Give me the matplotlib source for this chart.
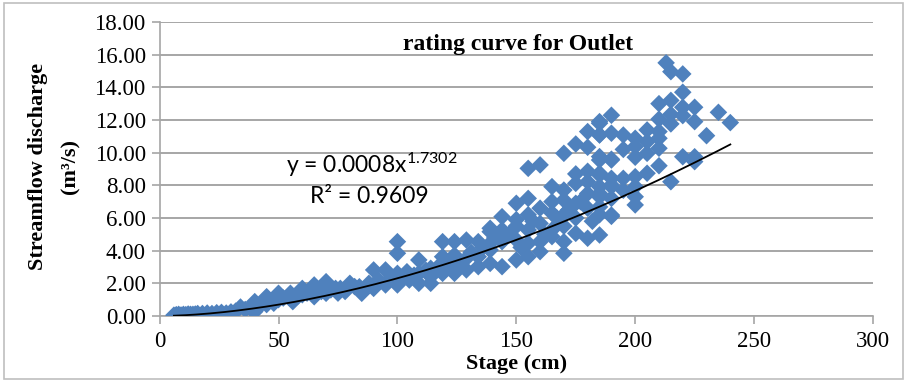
import numpy as np
import matplotlib
matplotlib.use('Agg')
import matplotlib.pyplot as plt
from matplotlib.patches import Rectangle

# Stage (cm) and streamflow discharge (m3/s)
stage = [6, 7, 8, 9, 10, 11, 12, 13, 14, 15, 16, 18, 20, 22, 24, 26, 28, 30, 32, 34,
         36, 38, 40, 40, 42, 45, 45, 48, 50, 50, 52, 55, 56, 58, 60, 60, 62, 65, 65, 68,
         70, 70, 72, 74, 75, 76, 78, 80, 82, 84, 85, 88, 90, 90, 92, 95, 95, 97, 100, 100,
         100, 100, 102, 104, 105, 107, 109, 109, 109, 112, 114, 114, 114, 117, 119, 119, 119, 122, 124, 124,
         124, 126, 129, 129, 129, 131, 134, 134, 134, 136, 139, 139, 139, 139, 139, 141, 144, 144, 144, 144,
         147, 150, 150, 150, 150, 150, 152, 155, 155, 155, 155, 155, 155, 157, 160, 160, 160, 160, 160, 162,
         165, 165, 165, 165, 165, 167, 170, 170, 170, 170, 170, 170, 170, 172, 175, 175, 175, 175, 175, 175,
         177, 180, 180, 180, 180, 180, 180, 180, 182, 185, 185, 185, 185, 185, 185, 185, 185, 185, 185, 185,
         185, 185, 185, 190, 190, 190, 190, 190, 190, 190, 190, 190, 190, 195, 195, 195, 195, 200, 200, 200,
         200, 200, 200, 200, 205, 205, 205, 205, 210, 210, 210, 210, 210, 210, 213, 215, 215, 215, 215, 215,
         220, 220, 220, 220, 220, 225, 225, 225, 225, 230, 235, 240]
discharge = [0.05, 0.08, 0.10, 0.06, 0.10, 0.08, 0.12, 0.10, 0.10, 0.12, 0.15, 0.15, 0.18, 0.15, 0.20, 0.22, 0.18, 0.25, 0.30, 0.55,
             0.40, 0.50, 0.88, 0.27, 0.60, 1.18, 0.70, 0.78, 1.39, 1.00, 1.10, 1.39, 0.88, 1.20, 1.69, 1.30, 1.40, 1.90, 1.18, 1.50,
             2.10, 1.39, 1.60, 1.69, 1.40, 1.69, 1.50, 2.00, 1.80, 1.79, 1.39, 2.00, 2.82, 1.69, 2.20, 2.82, 1.90, 2.30, 2.61, 1.90,
             4.55, 3.84, 2.30, 2.71, 2.20, 2.50, 3.43, 2.61, 2.00, 2.80, 2.41, 2.92, 2.00, 3.00, 3.63, 4.55, 2.61, 3.20, 4.55, 3.73,
             2.61, 3.30, 4.65, 3.53, 2.82, 3.90, 4.55, 3.63, 3.02, 4.20, 5.16, 4.04, 5.37, 4.45, 3.22, 4.80, 6.08, 5.27, 4.55, 3.02,
             5.00, 6.90, 5.90, 5.50, 4.66, 3.43, 4.20, 9.04, 7.20, 6.20, 5.27, 4.45, 3.63, 5.80, 9.25, 6.60, 5.67, 4.55, 3.94, 5.00,
             7.92, 7.00, 6.30, 5.27, 4.86, 6.00, 9.96, 7.71, 7.10, 6.20, 5.50, 4.55, 3.84, 6.50, 10.53, 8.70, 8.12, 6.90, 6.00, 5.06,
             7.00, 11.29, 10.33, 8.86, 8.22, 7.50, 6.60, 4.76, 5.80, 11.80, 11.08, 9.76, 8.63, 7.92, 7.30, 6.20, 4.96, 11.90, 11.10, 9.55,
             8.74, 7.50, 6.68, 12.29, 11.19, 9.60, 8.43, 8.02, 7.92, 7.20, 6.10, 6.18, 9.55, 11.08, 10.20, 8.43, 7.70, 10.88, 10.37, 9.72,
             8.53, 7.92, 7.30, 6.80, 11.39, 10.67, 9.96, 8.74, 13.00, 12.05, 11.29, 10.88, 10.27, 9.20, 15.50, 14.96, 13.20, 12.35, 11.76, 8.22,
             14.82, 13.70, 12.78, 12.27, 9.75, 12.78, 11.90, 9.75, 9.45, 11.04, 12.47, 11.84]

# power trendline reported on the chart
coef_a = 0.0008
coef_b = 1.7302
r_squared = 0.9609

serif = 'Liberation Serif'
fig = plt.figure(figsize=(9.07, 3.82), dpi=100)
ax = fig.add_axes([0.176, 0.1728, 0.7865, 0.7696])

ax.scatter(stage, discharge, marker='D', s=80, color='#4F81BD', edgecolors='none', zorder=3)

xs = np.linspace(min(stage), max(stage), 200)
ax.plot(xs, coef_a * xs ** coef_b, color='black', linewidth=1.3, zorder=4)

ax.set_xlim(0, 300)
ax.set_ylim(0, 18)
ax.set_xticks(np.arange(0, 301, 50))
ax.set_yticks(np.arange(0, 18.1, 2))
ax.set_yticklabels([f'{v:.2f}' for v in np.arange(0, 18.1, 2)])
ax.grid(axis='y', color='#A6A6A6', linewidth=1.4)
ax.set_axisbelow(True)
for s in ['top', 'right']:
    ax.spines[s].set_visible(False)
for s in ['left', 'bottom']:
    ax.spines[s].set_color('#A6A6A6')
    ax.spines[s].set_linewidth(1.2)
ax.tick_params(axis='both', colors='#A6A6A6', length=6, width=1.2, labelcolor='black')
ax.tick_params(axis='y', pad=4)
ax.tick_params(axis='x', pad=5)
for lab in ax.get_xticklabels() + ax.get_yticklabels():
    lab.set_fontfamily(serif)
    lab.set_fontsize(16.5)

ax.set_xlabel('Stage (cm)', fontfamily=serif, fontsize=16, fontweight='bold', labelpad=1)

fig.text(0.042, 0.565, 'Streamflow discharge', rotation=90, ha='center', va='center',
         fontfamily=serif, fontsize=16, fontweight='bold')
fig.text(0.078, 0.565, '(m³/s)', rotation=90, ha='center', va='center',
         fontfamily=serif, fontsize=16, fontweight='bold')

ax.text(0.502, 0.925, 'rating curve for Outlet', transform=ax.transAxes, ha='center', va='center',
        fontfamily=serif, fontsize=17, fontweight='bold')

plt.rcParams['mathtext.fontset'] = 'custom'
plt.rcParams['mathtext.rm'] = 'Lato'
plt.rcParams['mathtext.it'] = 'Lato'
ax.text(89, 9.25, f'y = {coef_a}x$^{{{coef_b}}}$', ha='center', va='center',
        fontfamily='Lato', fontsize=16.5)
ax.text(88, 7.3, f'R² = {r_squared}', ha='center', va='center',
        fontfamily='Lato', fontsize=16.5)

fig.patches.append(Rectangle((0.004, 0.008), 0.992, 0.984, transform=fig.transFigure,
                             fill=False, edgecolor='#BFBFBF', linewidth=1.2))

fig.savefig('out.png', dpi=100)
